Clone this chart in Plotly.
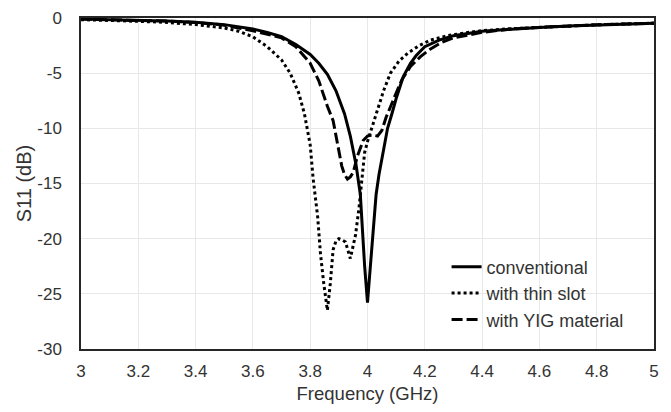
import plotly.graph_objects as go

# Conventional antenna
f_conv = [3.0, 3.1, 3.2, 3.3, 3.4, 3.5, 3.6, 3.65, 3.7, 3.75, 3.8, 3.83, 3.86, 3.89, 3.92,
          3.94, 3.96, 3.975, 3.99, 4.0, 4.01, 4.02, 4.03, 4.04, 4.055, 4.07, 4.085, 4.1,
          4.125, 4.15, 4.17, 4.2, 4.25, 4.3, 4.4, 4.5, 4.6, 4.7, 4.8, 4.9, 5.0]
s_conv = [-0.1, -0.15, -0.2, -0.28, -0.38, -0.6, -1.0, -1.3, -1.7, -2.4, -3.3, -4.1, -5.1,
          -6.6, -8.7, -10.7, -13.3, -16.0, -22.5, -25.8, -22.5, -19.0, -16.0, -14.2, -12.0,
          -10.0, -8.7, -7.3, -5.3, -4.1, -3.4, -2.6, -2.0, -1.6, -1.2, -1.0, -0.85, -0.72,
          -0.62, -0.54, -0.47]

# With thin slot
f_slot = [3.0, 3.1, 3.2, 3.3, 3.4, 3.5, 3.55, 3.6, 3.65, 3.7, 3.73, 3.76, 3.78, 3.8, 3.81,
          3.826, 3.836, 3.847, 3.86, 3.87, 3.88, 3.89, 3.9, 3.91, 3.923, 3.94, 3.958, 3.97,
          3.98, 3.99, 4.0, 4.01, 4.034, 4.056, 4.08, 4.11, 4.14, 4.18, 4.22, 4.28, 4.34,
          4.4, 4.5, 4.6, 4.7, 4.8, 4.9, 5.0]
s_slot = [-0.15, -0.2, -0.3, -0.4, -0.6, -0.9, -1.2, -1.7, -2.6, -3.8, -5.0, -6.8, -8.7,
          -11.5, -14.5, -18.0, -21.4, -24.0, -26.5, -24.1, -21.0, -20.2, -20.0, -20.1,
          -20.3, -21.8, -19.7, -17.3, -14.9, -12.2, -11.2, -10.4, -8.5, -6.6, -5.0, -3.9,
          -3.2, -2.5, -2.0, -1.6, -1.35, -1.15, -0.97, -0.84, -0.72, -0.62, -0.54, -0.47]

# With YIG material
f_yig = [3.0, 3.1, 3.2, 3.3, 3.4, 3.5, 3.6, 3.65, 3.7, 3.75, 3.8, 3.83, 3.86, 3.88, 3.895,
         3.91, 3.92, 3.93, 3.94, 3.95, 3.965, 3.985, 4.0, 4.015, 4.035, 4.05, 4.065, 4.08,
         4.1, 4.12, 4.15, 4.185, 4.22, 4.26, 4.3, 4.4, 4.5, 4.6, 4.7, 4.8, 4.9, 5.0]
s_yig = [-0.1, -0.15, -0.2, -0.28, -0.4, -0.65, -1.15, -1.45, -1.8, -2.6, -4.1, -5.7, -8.0,
         -9.3, -11.3, -13.4, -14.2, -14.6, -14.4, -14.0, -12.5, -11.1, -10.7, -10.6, -10.7,
         -10.2, -9.0, -8.0, -6.8, -5.6, -4.4, -3.5, -2.8, -2.2, -1.8, -1.3, -1.0, -0.85,
         -0.72, -0.62, -0.54, -0.47]

x_ticks = [3, 3.2, 3.4, 3.6, 3.8, 4, 4.2, 4.4, 4.6, 4.8, 5]
x_tick_labels = ["3", "3.2", "3.4", "3.6", "3.8", "4", "4.2", "4.4", "4.6", "4.8", "5"]
y_ticks = [0, -5, -10, -15, -20, -25, -30]
y_tick_labels = ["0", "-5", "-10", "-15", "-20", "-25", "-30"]

FONT = "Liberation Sans, Arial, sans-serif"
TXT = "#333333"

fig = go.Figure()
fig.add_trace(go.Scatter(x=f_conv, y=s_conv, mode="lines", name="conventional",
                         line=dict(color="black", width=3)))
fig.add_trace(go.Scatter(x=f_slot, y=s_slot, mode="lines", name="with thin slot",
                         line=dict(color="black", width=3, dash="dot")))
fig.add_trace(go.Scatter(x=f_yig, y=s_yig, mode="lines", name="with YIG material",
                         line=dict(color="black", width=3, dash="11px,4px")))

fig.update_layout(
    width=671, height=412,
    margin=dict(l=73, r=25, t=10, b=71),
    paper_bgcolor="white", plot_bgcolor="white",
    font=dict(family=FONT, size=17, color=TXT),
    showlegend=True,
    legend=dict(x=0.638, y=0.3036, xanchor="left", yanchor="top",
                bgcolor="rgba(255,255,255,0)", font=dict(size=18, color=TXT)),
)
fig.update_xaxes(range=[3, 5], tickvals=x_ticks, ticktext=x_tick_labels,
                 showgrid=True, gridcolor="#e8e8e8", gridwidth=1,
                 showline=True, linecolor="#262626", linewidth=1.5, mirror=True,
                 ticks="", zeroline=False, automargin=False, ticklabelstandoff=6,
                 ticklabeloverflow="allow",
                 tickfont=dict(size=17, color=TXT),
                 title=dict(text="Frequency (GHz)", font=dict(size=18.5, color=TXT), standoff=7))
fig.update_yaxes(range=[-30, 0], tickvals=y_ticks, ticktext=y_tick_labels,
                 showgrid=True, gridcolor="#e8e8e8", gridwidth=1,
                 showline=True, linecolor="#262626", linewidth=1.5, mirror=True,
                 ticks="", zeroline=False, automargin=False, ticklabelstandoff=14,
                 ticklabeloverflow="allow",
                 tickfont=dict(size=17, color=TXT),
                 title=dict(text="S11 (dB)", font=dict(size=20, color=TXT), standoff=0))

fig.write_html("out.html")
